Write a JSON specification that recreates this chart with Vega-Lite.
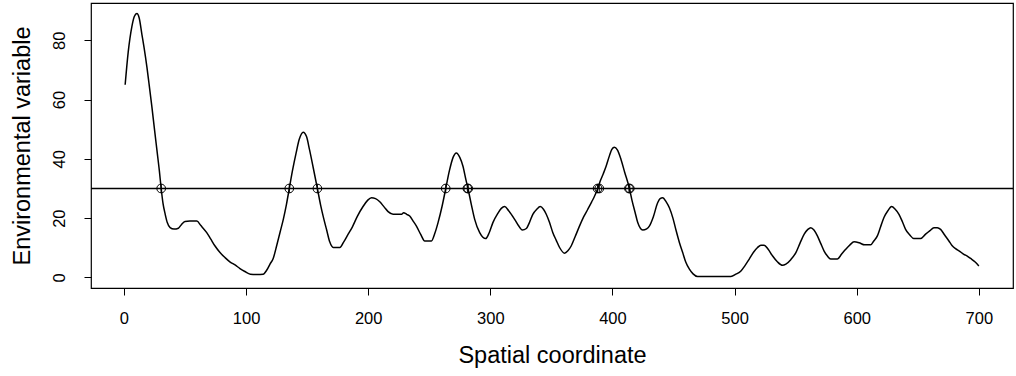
{
  "$schema": "https://vega.github.io/schema/vega-lite/v6.json",
  "width": 922,
  "height": 285,
  "autosize": "none",
  "padding": {"left": 91, "top": 3, "right": 3, "bottom": 88},
  "background": "white",
  "config": {
    "view": {"stroke": "black", "strokeWidth": 1.2},
    "font": "Liberation Sans",
    "axis": {
      "domain": false,
      "grid": false,
      "ticks": true,
      "tickColor": "black",
      "tickSize": 7,
      "tickWidth": 1,
      "labelColor": "black",
      "labelFont": "Liberation Sans",
      "labelFontSize": 16.5,
      "titleFont": "Liberation Sans",
      "titleFontSize": 23.5,
      "titleFontWeight": "normal",
      "titleColor": "black"
    }
  },
  "datasets": {
    "curve": [
      {"x": 1, "y": 65}, {"x": 3.5, "y": 76}, {"x": 6.5, "y": 84.6}, {"x": 8.5, "y": 88}, {"x": 10.6, "y": 89},
      {"x": 12.5, "y": 87.5}, {"x": 14.7, "y": 82}, {"x": 16.5, "y": 77.5}, {"x": 18.8, "y": 71}, {"x": 20.5, "y": 65.5},
      {"x": 22.9, "y": 57.5}, {"x": 25, "y": 50}, {"x": 27, "y": 43}, {"x": 29, "y": 36}, {"x": 30.5, "y": 30},
      {"x": 32, "y": 25}, {"x": 33.8, "y": 21.3}, {"x": 35.5, "y": 18.5}, {"x": 37.8, "y": 16.8}, {"x": 41, "y": 16.3},
      {"x": 44.6, "y": 16.6}, {"x": 47, "y": 17.8}, {"x": 50, "y": 18.9}, {"x": 54, "y": 19}, {"x": 59.7, "y": 19},
      {"x": 63, "y": 17.5}, {"x": 67.8, "y": 15.1}, {"x": 71, "y": 13}, {"x": 74.6, "y": 10.6}, {"x": 78.5, "y": 8.5},
      {"x": 82.8, "y": 6.7}, {"x": 87, "y": 5.2}, {"x": 91, "y": 4.2}, {"x": 95, "y": 3}, {"x": 99, "y": 2},
      {"x": 103.5, "y": 1.1}, {"x": 109, "y": 1}, {"x": 114, "y": 1.1}, {"x": 117, "y": 2.5}, {"x": 119.6, "y": 4.5},
      {"x": 122.3, "y": 6.5}, {"x": 125, "y": 10.6}, {"x": 128, "y": 15.5}, {"x": 130.5, "y": 19.6}, {"x": 133, "y": 24.5},
      {"x": 135.4, "y": 30}, {"x": 138, "y": 36}, {"x": 141, "y": 42}, {"x": 143.5, "y": 46.5}, {"x": 146.8, "y": 49},
      {"x": 149.5, "y": 47.5}, {"x": 152, "y": 43}, {"x": 155, "y": 37}, {"x": 158.4, "y": 30}, {"x": 161, "y": 24.5},
      {"x": 163.5, "y": 20}, {"x": 166, "y": 16}, {"x": 168.5, "y": 12}, {"x": 171.4, "y": 10.1}, {"x": 176.8, "y": 10.1},
      {"x": 180, "y": 12}, {"x": 183.6, "y": 14.6}, {"x": 187, "y": 17}, {"x": 191, "y": 20.5}, {"x": 195.9, "y": 24},
      {"x": 199.5, "y": 26}, {"x": 202.7, "y": 26.9}, {"x": 206, "y": 26.6}, {"x": 209.5, "y": 25.5}, {"x": 213, "y": 23.8},
      {"x": 216.3, "y": 22.2}, {"x": 220.4, "y": 21.3}, {"x": 227.3, "y": 21.3}, {"x": 229, "y": 21.8}, {"x": 231.5, "y": 21.3},
      {"x": 234, "y": 20.7}, {"x": 236.8, "y": 19}, {"x": 239.5, "y": 17.3}, {"x": 243, "y": 14.5}, {"x": 246.3, "y": 12.3},
      {"x": 251.8, "y": 12.3}, {"x": 254.5, "y": 14.8}, {"x": 257.2, "y": 18.5}, {"x": 260.5, "y": 24}, {"x": 263.5, "y": 30},
      {"x": 266.5, "y": 36}, {"x": 269.5, "y": 40.5}, {"x": 272.2, "y": 42}, {"x": 275, "y": 40.5}, {"x": 277.6, "y": 37.5},
      {"x": 280, "y": 33}, {"x": 281.7, "y": 30}, {"x": 284.5, "y": 24.5}, {"x": 287.2, "y": 19.6}, {"x": 291.3, "y": 15.1},
      {"x": 296.2, "y": 13.1}, {"x": 299, "y": 15}, {"x": 302.1, "y": 18.5}, {"x": 306, "y": 21.5}, {"x": 309, "y": 23.3},
      {"x": 311.7, "y": 23.9}, {"x": 315, "y": 22.5}, {"x": 319.9, "y": 19.6}, {"x": 323, "y": 17.5}, {"x": 326.2, "y": 16},
      {"x": 329.5, "y": 16.5}, {"x": 332, "y": 18.5}, {"x": 334.8, "y": 21.3}, {"x": 338, "y": 23}, {"x": 340.9, "y": 23.9},
      {"x": 343.5, "y": 23}, {"x": 345.8, "y": 21.3}, {"x": 348.5, "y": 18.5}, {"x": 351.2, "y": 15.1}, {"x": 354, "y": 12.5},
      {"x": 356.7, "y": 10.1}, {"x": 360.8, "y": 8.2}, {"x": 363.5, "y": 9}, {"x": 366.2, "y": 10.6}, {"x": 369.5, "y": 13.8},
      {"x": 373, "y": 17.3}, {"x": 376.5, "y": 20.5}, {"x": 379.8, "y": 23}, {"x": 383, "y": 25.5}, {"x": 385.3, "y": 27.4},
      {"x": 388, "y": 30}, {"x": 390, "y": 32.5}, {"x": 392.5, "y": 35}, {"x": 394.8, "y": 37.5}, {"x": 397.5, "y": 41},
      {"x": 399.5, "y": 43.2}, {"x": 401.6, "y": 43.9}, {"x": 404, "y": 43}, {"x": 407, "y": 39.8}, {"x": 410, "y": 35.5},
      {"x": 413.9, "y": 30}, {"x": 416, "y": 26}, {"x": 418.5, "y": 22}, {"x": 420.7, "y": 18.5}, {"x": 424.8, "y": 16},
      {"x": 428, "y": 16.4}, {"x": 430.2, "y": 17.3}, {"x": 433.5, "y": 20.5}, {"x": 437, "y": 25.2}, {"x": 439, "y": 26.6},
      {"x": 441.1, "y": 26.9}, {"x": 444, "y": 25.5}, {"x": 446.6, "y": 23.5}, {"x": 449.5, "y": 20}, {"x": 452, "y": 16},
      {"x": 454.8, "y": 11.8}, {"x": 457.5, "y": 8.4}, {"x": 460, "y": 5.2}, {"x": 463, "y": 2.8}, {"x": 466, "y": 1.2},
      {"x": 469.7, "y": 0.3}, {"x": 497, "y": 0.3}, {"x": 501.1, "y": 1.1}, {"x": 505.2, "y": 2.2}, {"x": 508.5, "y": 4},
      {"x": 512, "y": 6.2}, {"x": 515.5, "y": 8.5}, {"x": 518.8, "y": 10.1}, {"x": 521.5, "y": 10.9}, {"x": 524.2, "y": 10.9},
      {"x": 527.5, "y": 9.5}, {"x": 531, "y": 7.3}, {"x": 535, "y": 5.3}, {"x": 539.2, "y": 4.1}, {"x": 542, "y": 4.5},
      {"x": 546, "y": 6}, {"x": 550.2, "y": 8.4}, {"x": 553.5, "y": 11.5}, {"x": 557, "y": 14.6}, {"x": 560, "y": 16.2},
      {"x": 562.4, "y": 16.8}, {"x": 565, "y": 16}, {"x": 567.8, "y": 14}, {"x": 570.5, "y": 11.5}, {"x": 573.3, "y": 8.9},
      {"x": 576, "y": 7.2}, {"x": 578.7, "y": 6.2}, {"x": 584.2, "y": 6.2}, {"x": 587.5, "y": 7.8}, {"x": 591, "y": 9.5},
      {"x": 594.5, "y": 11}, {"x": 597.8, "y": 12}, {"x": 601.9, "y": 11.7}, {"x": 606.5, "y": 11}, {"x": 611.5, "y": 11},
      {"x": 614, "y": 12.3}, {"x": 616.9, "y": 14}, {"x": 619.5, "y": 17}, {"x": 622.3, "y": 20.2}, {"x": 625.5, "y": 22.5},
      {"x": 628.6, "y": 23.9}, {"x": 631.5, "y": 23}, {"x": 634.6, "y": 21.3}, {"x": 637.5, "y": 18.7}, {"x": 640, "y": 16.2},
      {"x": 643.5, "y": 14.3}, {"x": 646.8, "y": 13.1}, {"x": 652.3, "y": 13.1}, {"x": 656.4, "y": 14.6}, {"x": 660, "y": 15.8},
      {"x": 663.2, "y": 16.8}, {"x": 666, "y": 16.8}, {"x": 668.7, "y": 16.2}, {"x": 672, "y": 14.3}, {"x": 675.5, "y": 12.3},
      {"x": 678, "y": 10.8}, {"x": 680.9, "y": 9.7}, {"x": 684, "y": 8.9}, {"x": 687.7, "y": 7.8}, {"x": 690.5, "y": 7.2},
      {"x": 693.2, "y": 6.4}, {"x": 697, "y": 5.2}, {"x": 700, "y": 3.9}
    ],
    "crossings": [
      {"x": 30.5, "y": 30}, {"x": 135.4, "y": 30}, {"x": 158.4, "y": 30}, {"x": 263.5, "y": 30},
      {"x": 281.2, "y": 30}, {"x": 281.9, "y": 30}, {"x": 387.8, "y": 30}, {"x": 389.2, "y": 30},
      {"x": 413.5, "y": 30}, {"x": 414.2, "y": 30}
    ]
  },
  "layer": [
    {
      "data": {"name": "curve"},
      "mark": {"type": "line", "color": "black", "strokeWidth": 1.5, "interpolate": "monotone"},
      "encoding": {
        "x": {
          "field": "x", "type": "quantitative",
          "scale": {"domain": [-26.96, 727.96], "nice": false, "zero": false},
          "axis": {"values": [0, 100, 200, 300, 400, 500, 600, 700], "title": "Spatial coordinate",
                   "labelPadding": 15, "titleY": 67, "titleBaseline": "middle", "labelBaseline": "top"}
        },
        "y": {
          "field": "y", "type": "quantitative",
          "scale": {"domain": [-3.56, 92.56], "nice": false, "zero": false},
          "axis": {"values": [0, 20, 40, 60, 80], "title": "Environmental variable",
                   "labelAngle": 270, "labelAlign": "center", "labelBaseline": "middle", "labelPadding": 25,
                   "titleX": -69, "titleY": 142.5, "titleAngle": 270, "titleAlign": "center", "titleBaseline": "middle"}
        }
      }
    },
    {
      "data": {"values": [{"h": 30}]},
      "mark": {"type": "rule", "color": "black", "strokeWidth": 1.3},
      "encoding": {"y": {"field": "h", "type": "quantitative"}}
    },
    {
      "data": {"name": "crossings"},
      "mark": {"type": "point", "shape": "M-1,0A1,1,0,1,1,1,0A1,1,0,1,1,-1,0ZM-1,0L1,0M0,-1L0,1", "filled": false, "stroke": "black", "strokeWidth": 1, "size": 76, "opacity": 1},
      "encoding": {
        "x": {"field": "x", "type": "quantitative"},
        "y": {"field": "y", "type": "quantitative"}
      }
    }
  ]
}
